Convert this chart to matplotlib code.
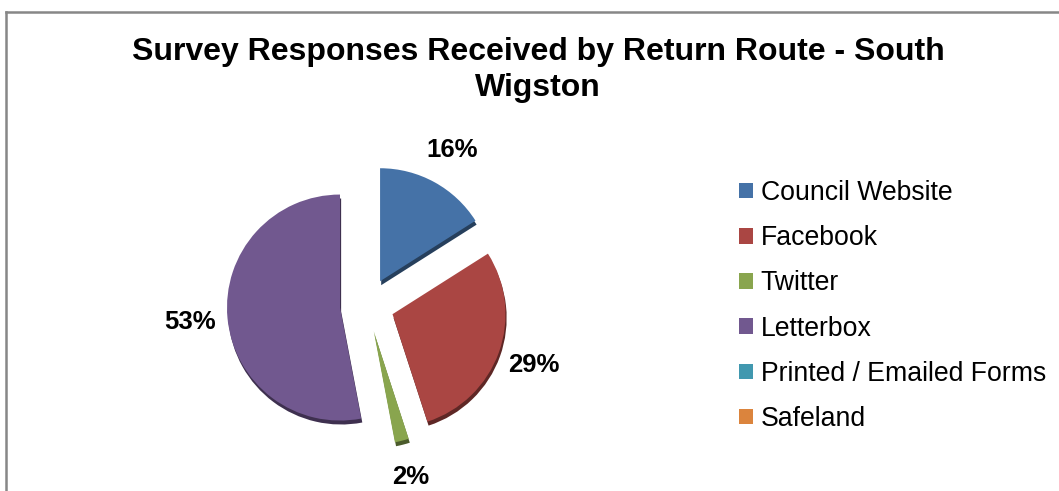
import matplotlib.pyplot as plt
from matplotlib.patches import Patch
from matplotlib.lines import Line2D
from matplotlib.colors import to_rgb

plt.rcParams['font.family'] = ['Liberation Sans', 'DejaVu Sans']

categories = ['Council Website', 'Facebook', 'Twitter', 'Letterbox',
              'Printed / Emailed Forms', 'Safeland']
percent = [16, 29, 2, 53, 0, 0]
colors = ['#4572A7', '#AA4643', '#89A54E', '#71588F', '#4198AF', '#DB843D']
title = 'Survey Responses Received by Return Route - South\nWigston'

W, H = 1059, 491
scale = 113.0          # pixels per pie radius
cx, cy = 367, 305      # pie centre in pixels

fig = plt.figure(figsize=(W / 100, H / 100), dpi=100)
ax = fig.add_axes([0, 0, 1, 1])
ax.axis('off')

explode = [0.24] * len(percent)


def darker(c, f=0.55):
    r, g, b = to_rgb(c)
    return (r * f, g * f, b * f)


# side of the 3d slices: a darker copy pushed a little downwards
ax.pie(percent, explode=explode, colors=[darker(c) for c in colors],
       startangle=90, counterclock=False, radius=1.0,
       center=(0.01, -0.035), wedgeprops=dict(linewidth=0))

wedges, _, autotexts = ax.pie(
    percent, explode=explode, colors=colors, startangle=90,
    counterclock=False, radius=1.0, center=(0, 0),
    autopct=lambda p: f'{p:.0f}%' if p > 0.5 else '',
    pctdistance=1.33, wedgeprops=dict(linewidth=0),
    textprops=dict(fontsize=18.5, fontweight='bold', color='black'))
ax.set_xlim(-cx / scale, (W - cx) / scale)
ax.set_ylim(-(H - cy) / scale, cy / scale)
ax.set_aspect('auto')

fig.text(538 / W, 1 - 70 / H, title, ha='center', va='center',
         fontsize=23, fontweight='bold', linespacing=1.28)

handles = [Patch(facecolor=c, edgecolor='none') for c in colors]
fig.legend(handles, categories, loc='upper left',
           bbox_to_anchor=(739 / W, 1 - 180 / H), frameon=False,
           fontsize=19.2, handlelength=0.52, handleheight=0.52,
           handletextpad=0.3, labelspacing=0.72, borderpad=0,
           borderaxespad=0)

# chart area border (only left and top edges are visible)
fig.add_artist(Line2D([6 / W, 6 / W], [0, 1 - 12 / H], color='#878787',
                      lw=1.8, transform=fig.transFigure))
fig.add_artist(Line2D([6 / W, 1], [1 - 12 / H, 1 - 12 / H], color='#878787',
                      lw=1.8, transform=fig.transFigure))

fig.savefig('out.png', dpi=100)
